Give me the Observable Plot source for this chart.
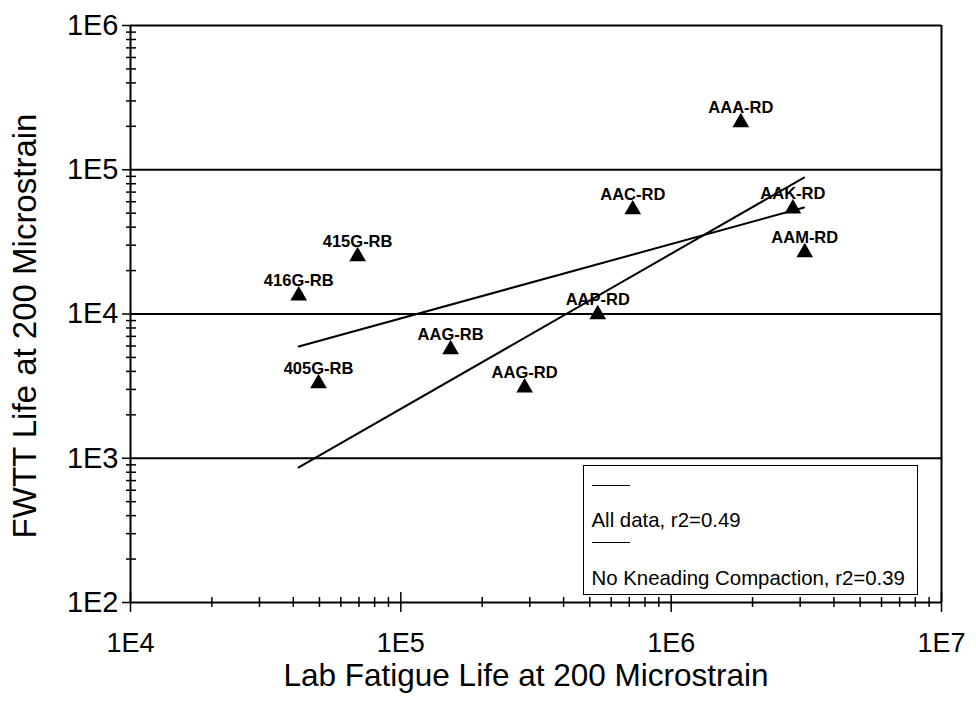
<!DOCTYPE html>
<html>
<head>
<meta charset="utf-8">
<script src="https://cdn.jsdelivr.net/npm/d3@7"></script>
<script src="https://cdn.jsdelivr.net/npm/@observablehq/plot@0.6"></script>
<style>
  html, body { margin: 0; padding: 0; background: #fff; }
  #wrap { position: relative; width: 976px; height: 702px; font-family: "Liberation Sans", Arial, sans-serif; }
  #legend { position: absolute; left: 583px; top: 465px; width: 335px; height: 130px; box-sizing: border-box;
            border: 1.5px solid #000; background: #fff; }
  #legend .sample { position: absolute; left: 7.5px; width: 38px; height: 0; border-top: 1.5px solid #000; }
  #legend .lab { position: absolute; left: 7.5px; font-size: 20.4px; line-height: 20px; white-space: nowrap; color: #000; }
</style>
</head>
<body>
<div id="wrap"></div>
<script>
// Mixes (point labels)
const mixNames = ["416G-RB", "415G-RB", "405G-RB", "AAG-RB", "AAG-RD", "AAP-RD", "AAC-RD", "AAA-RD", "AAK-RD", "AAM-RD"];
// Lab fatigue life at 200 microstrain
const labLife = [41900, 69200, 49600, 152800, 287000, 535000, 721000, 1810000, 2820000, 3120000];
// FWTT life at 200 microstrain
const fwttLife = [13400, 25100, 3300, 5680, 3090, 9930, 53000, 213000, 53800, 26700];

// Regression lines (end points)
const allDataFitX = [41900, 3100000];
const allDataFitY = [5960, 54700];
const noKneadingFitX = [41900, 3100000];
const noKneadingFitY = [863, 88300];

// Legend entries
const legendLabels = ["All data, r2=0.49", "No Kneading Compaction, r2=0.39"];

// Axis ticks
const xMajor = [1e4, 1e5, 1e6, 1e7];
const yMajor = [1e2, 1e3, 1e4, 1e5, 1e6];
const yGrid = [1e3, 1e4, 1e5];
const xTitle = "Lab Fatigue Life at 200 Microstrain";
const yTitle = "FWTT Life at 200 Microstrain";

const xMinor = [];
for (let e = 4; e < 7; e++) for (let k = 2; k <= 9; k++) xMinor.push(k * 10 ** e);
const yMinor = [];
for (let e = 2; e < 6; e++) for (let k = 2; k <= 9; k++) yMinor.push(k * 10 ** e);

const points = mixNames.map((n, i) => ({name: n, x: labLife[i], y: fwttLife[i]}));
const fitAll = allDataFitX.map((x, i) => ({x, y: allDataFitY[i]}));
const fitNoK = noKneadingFitX.map((x, i) => ({x, y: noKneadingFitY[i]}));

const W = 811, H = 577;
const fmt = d => "1E" + Math.round(Math.log10(d));

const chart = Plot.plot({
  width: 976,
  height: 702,
  marginLeft: 130,
  marginRight: 35,
  marginTop: 25,
  marginBottom: 100,
  style: {fontFamily: "'Liberation Sans', Arial, sans-serif", fontSize: "29px", color: "#000", background: "#fff"},
  x: {type: "log", domain: [1e4, 1e7]},
  y: {type: "log", domain: [1e2, 1e6]},
  marks: [
    Plot.ruleY(yGrid, {stroke: "#000", strokeWidth: 1.8}),
    Plot.ruleY([1e6], {stroke: "#000", strokeWidth: 2}),
    Plot.ruleX([1e7], {stroke: "#000", strokeWidth: 2}),
    Plot.ruleX([1e4], {stroke: "#000", strokeWidth: 2}),
    Plot.ruleY([1e2], {stroke: "#000", strokeWidth: 2}),
    // y ticks
    Plot.tickY(yMajor, {stroke: "#000", strokeWidth: 1.5, insetLeft: -8, insetRight: W}),
    Plot.tickY(yMinor, {stroke: "#000", strokeWidth: 1.5, insetLeft: -4, insetRight: W - 6}),
    // x ticks
    Plot.tickX(xMajor, {stroke: "#000", strokeWidth: 1.5, insetTop: H - 10, insetBottom: -10}),
    Plot.tickX(xMinor, {stroke: "#000", strokeWidth: 1.5, insetTop: H - 5, insetBottom: -5}),
    Plot.axisX({ticks: xMajor, tickSize: 0, tickPadding: 30, tickFormat: fmt, label: null, fontSize: 27, fill: "#000"}),
    Plot.axisY({ticks: yMajor, tickSize: 0, tickPadding: 12, tickFormat: fmt, label: null, fontSize: 29, fill: "#000"}),
    // fit lines
    Plot.line(fitAll, {x: "x", y: "y", stroke: "#000", strokeWidth: 2}),
    Plot.line(fitNoK, {x: "x", y: "y", stroke: "#000", strokeWidth: 2}),
    // points
    Plot.dot(points, {x: "x", y: "y", symbol: "triangle", r: 6.2, fill: "#000", stroke: "none"}),
    Plot.text(points, {x: "x", y: "y", text: "name", dy: -15, fontSize: 16.5, fontWeight: "bold", fill: "#000"}),
    // axis titles
    Plot.text([xTitle], {frameAnchor: "bottom", textAnchor: "middle", dy: 83, dx: -10, fontSize: 31.5, fill: "#000"}),
    Plot.text([yTitle], {frameAnchor: "left", textAnchor: "middle", dx: -105, dy: 12, rotate: -90, fontSize: 33, fill: "#000"})
  ]
});

const wrap = document.getElementById("wrap");
wrap.appendChild(chart);

const legend = document.createElement("div");
legend.id = "legend";
const tops = [{line: 18.75, text: 43.5}, {line: 75.75, text: 101.5}];
legendLabels.forEach((t, i) => {
  const s = document.createElement("div");
  s.className = "sample";
  s.style.top = tops[i].line + "px";
  legend.appendChild(s);
  const l = document.createElement("div");
  l.className = "lab";
  l.style.top = tops[i].text + "px";
  l.textContent = t;
  legend.appendChild(l);
});
wrap.appendChild(legend);
</script>
</body>
</html>
